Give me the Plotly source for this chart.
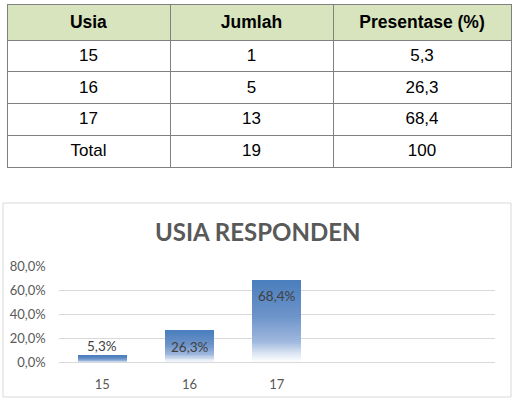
import plotly.graph_objects as go

# ---- data ----
usia = ["15", "16", "17"]
jumlah = [1, 5, 13]
presentase = [5.3, 26.3, 68.4]
total_label = "Total"
total_jumlah = 19
total_pres = 100
y_ticks = [0, 0.2, 0.4, 0.6, 0.8]
chart_title = "USIA RESPONDEN"

W, H = 515, 400
def px(x): return x / W
def py(y): return 1 - y / H

def fmt(v):
    return ("%g" % v).replace(".", ",")

fig = go.Figure()

# ---- table ----
col1 = usia + [total_label]
col2 = [str(j) for j in jumlah] + [str(total_jumlah)]
col3 = [fmt(p) for p in presentase] + [str(total_pres)]
fig.add_trace(go.Table(
    domain=dict(x=[px(7), px(511)], y=[py(185), py(4)]),
    columnwidth=[163, 163, 178],
    header=dict(values=["<b>Usia</b>", "<b>Jumlah</b>", "<b>Presentase (%)</b>"],
                fill_color="#d7e4bd", line=dict(color="#808080", width=1),
                font=dict(family="Liberation Sans, Arial", size=17.5, color="#000000"),
                align="center", height=31.8),
    cells=dict(values=[col1, col2, col3],
               fill_color="#ffffff", line=dict(color="#808080", width=1),
               font=dict(family="Liberation Sans, Arial", size=17, color="#000000"),
               align="center", height=31.8),
))

# ---- gradient bars (stacked slices of each value) ----
stops = [(0.0, (255, 255, 255)), (0.10, (222, 231, 244)), (0.25, (160, 185, 222)),
         (0.55, (110, 148, 202)), (1.0, (74, 126, 189))]
def col_at(t):
    for (t0, c0), (t1, c1) in zip(stops[:-1], stops[1:]):
        if t <= t1:
            f = (t - t0) / (t1 - t0)
            return "rgb(%d,%d,%d)" % tuple(round(a + (b - a) * f) for a, b in zip(c0, c1))
    return "rgb(%d,%d,%d)" % stops[-1][1]

N = 40
fracs = [p / 100 for p in presentase]
for i in range(N):
    t = (i + 0.5) / N
    fig.add_trace(go.Bar(
        x=usia, y=[f / N for f in fracs],
        marker=dict(color=col_at(t), line=dict(width=0)),
        showlegend=False, hoverinfo="skip", xaxis="x", yaxis="y"))

# labels (category index positions)
for idx, p in enumerate(presentase):
    inside = p > 15
    fig.add_annotation(x=idx, y=p / 100, xref="x", yref="y",
                       text=fmt(p) + "%", showarrow=False,
                       yanchor="top" if inside else "bottom",
                       yshift=-6 if inside else 0,
                       font=dict(family="Lato, Carlito, sans-serif", size=13.5, color="#404040"))

fig.add_annotation(x=px(257), y=py(232), xref="paper", yref="paper",
                   text="<b>" + chart_title + "</b>", showarrow=False,
                   xanchor="center", yanchor="middle",
                   font=dict(family="Lato, Carlito, sans-serif", size=24, color="#595959"))

# chart border
fig.add_shape(type="rect", xref="paper", yref="paper",
              x0=px(3), x1=px(511), y0=py(397), y1=py(203),
              line=dict(color="#d9d9d9", width=1), fillcolor="rgba(0,0,0,0)", layer="below")

fig.update_layout(
    width=W, height=H, margin=dict(l=0, r=0, t=0, b=0, autoexpand=False),
    paper_bgcolor="white", plot_bgcolor="white",
    barmode="stack", bargap=0.44, separators=", ",
    xaxis=dict(domain=[px(58.7), px(495)], type="category",
               categoryorder="array", categoryarray=usia,
               range=[-0.5, 4.5], showgrid=False, showline=True,
               linecolor="#d9d9d9", linewidth=1, ticks="",
               ticklabelstandoff=10, anchor="y", automargin=False,
               tickfont=dict(family="Lato, Carlito, sans-serif", size=13, color="#595959")),
    yaxis=dict(domain=[py(362.3), py(266.3)], range=[0, 0.8],
               tickvals=y_ticks, tickformat=".1%",
               showgrid=True, gridcolor="#d9d9d9", gridwidth=1,
               zeroline=False, showline=False, ticks="",
               ticklabelstandoff=12, anchor="x", automargin=False,
               tickfont=dict(family="Lato, Carlito, sans-serif", size=13, color="#595959")),
)

fig.write_html("out.html")
